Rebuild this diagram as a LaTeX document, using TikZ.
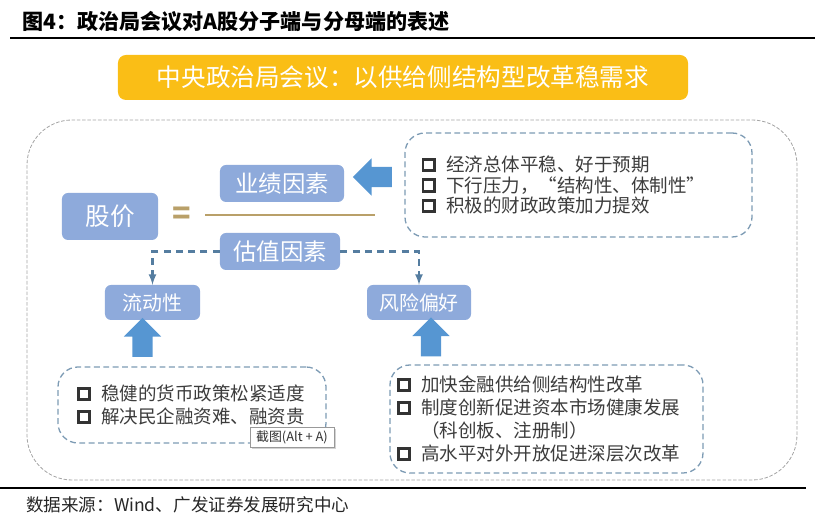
\documentclass[tikz,border=0pt]{standalone}
\usepackage{fontspec}
\setmainfont{Noto Sans CJK SC}
\usepackage{xcolor}
\usepackage{tikz}
\definecolor{boxblue}{RGB}{142,170,219}
\definecolor{arrowblue}{RGB}{86,150,210}
\definecolor{bannergold}{RGB}{250,190,22}
\definecolor{linegrey}{RGB}{165,165,165}
\definecolor{dashblue}{RGB}{125,155,180}
\definecolor{linkblue}{RGB}{85,125,160}
\definecolor{fractan}{RGB}{185,160,105}
\definecolor{listgrey}{RGB}{60,60,60}
\usetikzlibrary{calc,shapes.arrows,shadows}
\tikzset{>=latex,
    factor/.style={fill=boxblue, rounded corners=0.18cm, text=white, inner sep=0pt},
    banner/.style={fill=bannergold, rounded corners=0.24cm, text=white, inner sep=0pt,
        font=\fontsize{21}{24}\selectfont},
    listbox/.style={draw=dashblue, line width=1.1pt, dash pattern=on 5pt off 3pt,
        rounded corners=0.6cm, align=left, text=listgrey, inner ysep=0pt,
        font=\fontsize{15.8}{19.6}\selectfont},
    bigarrow/.style={single arrow, fill=arrowblue, inner xsep=0pt, inner ysep=0.3cm,
        single arrow head extend=0.255cm, minimum height=1.17cm},
    valuelink/.style={draw=linkblue, line width=2pt, dash pattern=on 6pt off 4.5pt, ->}}
\newcommand{\chkbox}{\tikz[baseline=-0.04em]\draw[solid, sharp corners, line width=2.3pt, draw=listgrey!85!black] (0,0) rectangle (0.62em,0.62em);}
\newcommand{\itemmark}{\chkbox\hspace{0.55em}}
\newcommand{\itemgap}{\phantom{\chkbox}\hspace{0.55em}}

\begin{document}
\begin{tikzpicture}[x=0.03cm, y=-0.03cm]
    \useasboundingbox (0,0) rectangle (827,516);
    \node[anchor=west, font=\bfseries\fontsize{18}{20}\selectfont] at (18,22) (title) {图4：政治局会议对A股分子端与分母端的表述};
    \draw[line width=1.7pt] (10,38) -- (815,38);
    \node[banner, minimum width=17.1cm, minimum height=1.35cm] at (403,77.5) (meeting) {中央政治局会议：以供给侧结构型改革稳需求};
    \draw[draw=linegrey, line width=0.7pt, dash pattern=on 3pt off 1.5pt, rounded corners=1.35cm] (27,120) rectangle (797,480);
    \node[factor, minimum width=2.88cm, minimum height=1.41cm, font=\fontsize{21}{24}\selectfont] at (110,216.5) (price) {股价};
    \node[text=fractan, font=\bfseries\fontsize{26}{28}\selectfont] at (182,216) (equals) {=};
    \draw[fractan, line width=1.6pt] (205,215) -- (375,215);
    \node[factor, minimum width=3.72cm, minimum height=1.11cm, font=\fontsize{20}{24}\selectfont] at (282,183.5) (earnings) {业绩因素};
    \node[factor, minimum width=3.6cm, minimum height=1.11cm, font=\fontsize{20}{24}\selectfont] at (280,251.5) (valuation) {估值因素};
    \node[factor, minimum width=2.85cm, minimum height=1.05cm, font=\fontsize{17}{20}\selectfont] at (152.5,302.5) (liquidity) {流动性};
    \node[factor, minimum width=3.12cm, minimum height=1.05cm, font=\fontsize{17}{20}\selectfont] at (419,302.5) (risk) {风险偏好};
    \node[listbox, minimum width=10.41cm, minimum height=3.12cm, inner xsep=0.5cm, text width=9.41cm,
        font=\fontsize{15.8}{17.5}\selectfont] at (578.5,185) (growth)
        {\itemmark 经济总体平稳、好于预期\\ \itemmark 下行压力，“结构性、体制性”\\ \itemmark 积极的财政政策加力提效};
    \node[listbox, minimum width=8.04cm, minimum height=2.28cm, inner xsep=0.57cm, text width=6.9cm] at (192,405) (monetary)
        {\itemmark 稳健的货币政策松紧适度\\ \itemmark 解决民企融资难、融资贵\\[2pt]};
    \node[listbox, minimum width=9.39cm, minimum height=3.24cm, inner xsep=0.21cm, text width=8.97cm] at (546.5,419) (reform)
        {\itemmark 加快金融供给侧结构性改革\\ \itemmark 制度创新促进资本市场健康发展\\ \itemgap （科创板、注册制）\\ \itemmark 高水平对外开放促进深层次改革};
    \node[bigarrow, rotate=180] at (377.5,177) (arrowgrowth) {};
    \node[bigarrow, rotate=90] at (142.5,342.5) (arrowmonetary) {};
    \node[bigarrow, rotate=90] at (431,342) (arrowreform) {};
    \draw[valuelink] (valuation.west) -| (liquidity.north);
    \draw[valuelink] (valuation.east) -| (risk.north);
    \node[draw=gray!80, fill=white, line width=0.6pt, inner sep=2pt, minimum width=2.52cm, minimum height=0.6cm,
        font=\fontsize{11}{12}\selectfont, text=black!80,
        drop shadow={opacity=0.35, shadow xshift=1.5pt, shadow yshift=-1.5pt}] at (292,437) (tooltip) {截图(Alt + A)};
    \draw[line width=2.4pt] (0,488) -- (806,488);
    \node[anchor=west, text=black!85, font=\fontsize{15}{17}\selectfont] at (22,505) (source) {数据来源：Wind、广发证券发展研究中心};
\end{tikzpicture}
\end{document}
